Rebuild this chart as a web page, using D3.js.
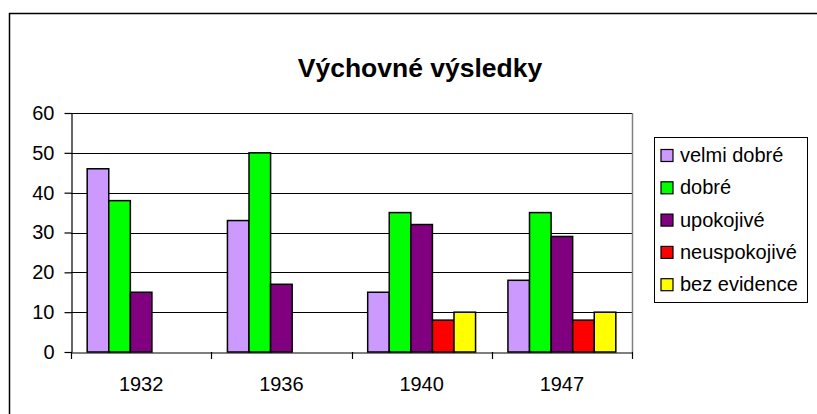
<!DOCTYPE html>
<html lang="cs">
<head>
<meta charset="UTF-8">
<title>Výchovné výsledky</title>
<script src="https://d3js.org/d3.v7.min.js"></script>
<style>
  body { margin: 0; background: #fff; }
  text { font-family: "Liberation Sans", Arial, sans-serif; }
</style>
</head>
<body>
<script>
  // data
  var years = ["1932", "1936", "1940", "1947"];
  var seriesNames = ["velmi dobré", "dobré", "upokojivé", "neuspokojivé", "bez evidence"];
  var seriesColors = ["#CC99FF", "#00FF00", "#800080", "#FF0000", "#FFFF00"];
  var velmiDobre = [46, 33, 15, 18];
  var dobre = [38, 50, 35, 35];
  var upokojive = [15, 17, 32, 29];
  var neuspokojive = [0, 0, 8, 8];
  var bezEvidence = [0, 0, 10, 10];
  var yTicks = [0, 10, 20, 30, 40, 50, 60];

  var series = [velmiDobre, dobre, upokojive, neuspokojive, bezEvidence];

  var W = 817, H = 414;
  var pLeft = 71, pRight = 632, pTop = 113, pBottom = 352;
  var fs = 20;

  var svg = d3.select("body").append("svg")
      .attr("width", W)
      .attr("height", H);

  // outer chart border (runs off the picture on right and bottom)
  svg.append("rect")
      .attr("x", 9.5).attr("y", 13.5)
      .attr("width", 830).attr("height", 430)
      .attr("fill", "none").attr("stroke", "#000").attr("stroke-width", 1.5);

  svg.append("text")
      .attr("x", 420).attr("y", 77)
      .attr("text-anchor", "middle")
      .attr("font-size", 26.5).attr("font-weight", "bold")
      .text("Výchovné výsledky");

  var x = d3.scaleBand().domain(years).range([pLeft, pRight]).paddingInner(0).paddingOuter(0);
  var bw = x.bandwidth() / 6.5;
  var y = d3.scaleLinear().domain([0, 60]).range([pBottom, pTop]);

  // gridlines
  svg.append("g").selectAll("line")
    .data(yTicks.filter(function(d) { return d > 0; }))
    .enter().append("line")
      .attr("x1", pLeft).attr("x2", pRight)
      .attr("y1", function(d) { return Math.round(y(d)) + 0.5; })
      .attr("y2", function(d) { return Math.round(y(d)) + 0.5; })
      .attr("stroke", "#000").attr("stroke-width", 1);

  // plot area right edge
  svg.append("line")
      .attr("x1", pRight + 0.5).attr("x2", pRight + 0.5)
      .attr("y1", pTop).attr("y2", pBottom)
      .attr("stroke", "#808080").attr("stroke-width", 1.5);

  // bars (zero values are not drawn)
  series.forEach(function(vals, si) {
    var pts = vals.map(function(v, i) { return { year: years[i], value: v }; })
      .filter(function(d) { return d.value > 0; });
    svg.append("g").selectAll("rect")
      .data(pts)
      .enter().append("rect")
        .attr("x", function(d) { return x(d.year) + bw * 0.75 + si * bw; })
        .attr("y", function(d) { return y(d.value); })
        .attr("width", bw)
        .attr("height", function(d) { return y(0) - y(d.value); })
        .attr("fill", seriesColors[si])
        .attr("stroke", "#000").attr("stroke-width", 1.5);
  });

  // y axis
  var yAxis = svg.append("g")
      .attr("transform", "translate(" + (pLeft + 0.5) + ",0)")
      .call(d3.axisLeft(y).tickValues(yTicks).tickSize(7).tickPadding(10).tickSizeOuter(0));
  yAxis.attr("font-size", fs).attr("font-family", null);
  yAxis.selectAll("text").attr("fill", "#000");
  yAxis.selectAll("line,path").attr("stroke", "#000").attr("stroke-width", 1.2);

  // x axis
  var xAxis = svg.append("g")
      .attr("transform", "translate(0," + (pBottom + 0.5) + ")")
      .call(d3.axisBottom(x).tickSize(0).tickPadding(24).tickSizeOuter(0));
  xAxis.attr("font-size", fs).attr("font-family", null);
  xAxis.selectAll("text").attr("fill", "#000");
  xAxis.selectAll("path").attr("stroke", "#000").attr("stroke-width", 1.2);

  // category separator ticks
  var edges = years.map(function(d) { return x(d); }).concat([pRight]);
  svg.append("g").selectAll("line")
    .data(edges)
    .enter().append("line")
      .attr("x1", function(d) { return Math.round(d) + 0.5; })
      .attr("x2", function(d) { return Math.round(d) + 0.5; })
      .attr("y1", pBottom).attr("y2", pBottom + 7)
      .attr("stroke", "#000").attr("stroke-width", 1.2);

  // legend
  var lg = svg.append("g");
  lg.append("rect")
      .attr("x", 654.5).attr("y", 137.5)
      .attr("width", 153).attr("height", 165)
      .attr("fill", "#fff").attr("stroke", "#000").attr("stroke-width", 1);
  var item = lg.selectAll("g.item")
    .data(seriesNames)
    .enter().append("g")
      .attr("transform", function(d, i) { return "translate(661," + (155 + i * 32.3) + ")"; });
  item.append("rect")
      .attr("x", 0).attr("y", -5.5)
      .attr("width", 12).attr("height", 12)
      .attr("fill", function(d, i) { return seriesColors[i]; })
      .attr("stroke", "#000").attr("stroke-width", 1.2);
  item.append("text")
      .attr("x", 19).attr("y", 7)
      .attr("font-size", fs)
      .text(function(d) { return d; });
</script>
</body>
</html>
